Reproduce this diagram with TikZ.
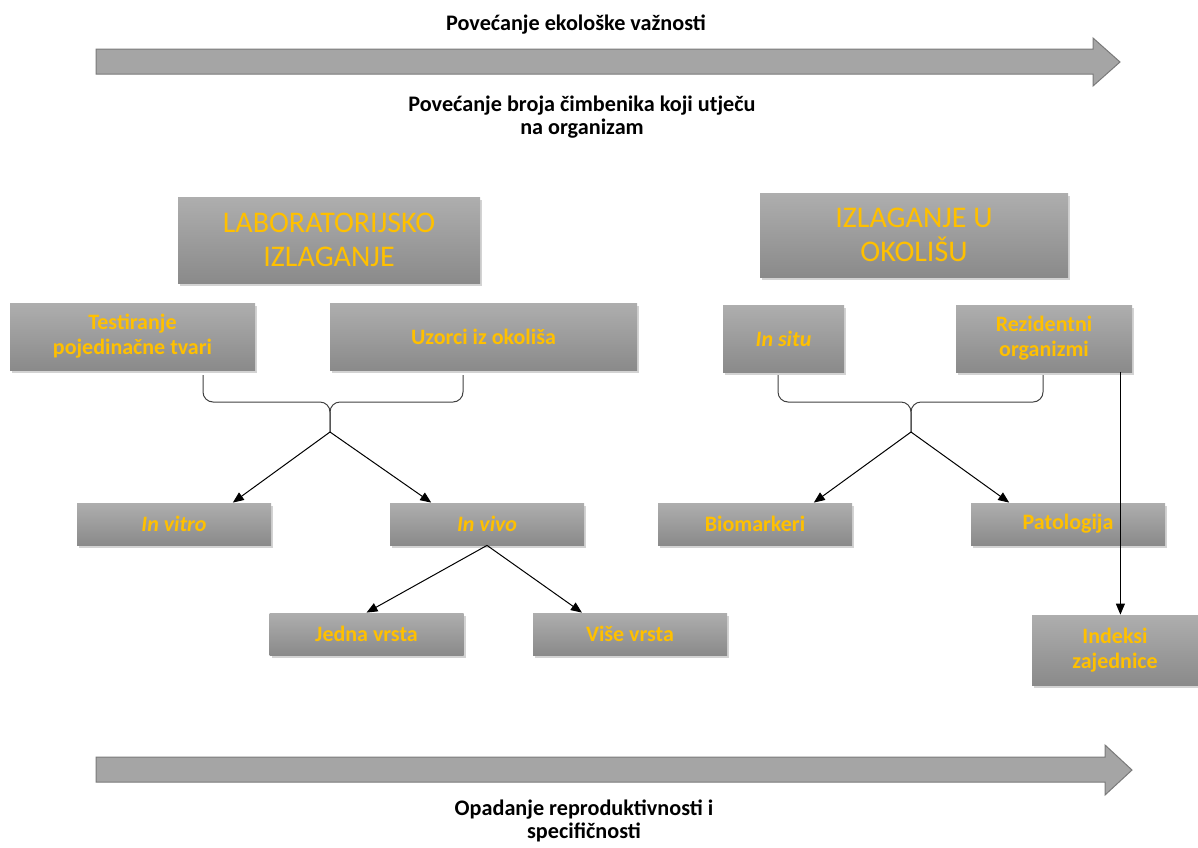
\documentclass[tikz,border=0pt]{standalone}
\usepackage{fontspec}
\setmainfont{Carlito}
\usetikzlibrary{arrows.meta,shadows,calc}
\definecolor{txtyel}{HTML}{FFC000}
\definecolor{boxtop}{HTML}{AEAEAE}
\definecolor{boxbot}{HTML}{8A8A8A}
\definecolor{arrfill}{HTML}{A5A5A5}
\definecolor{arrline}{HTML}{7A7A7A}
\tikzset{
  gbox/.style={rectangle, inner sep=2pt, align=center, text=txtyel,
    top color=boxtop, bottom color=boxbot, draw=none,
    drop shadow={opacity=0.35, shadow xshift=1pt, shadow yshift=-1.5pt}},
  bigbox/.style={gbox, font=\fontsize{15}{17}\selectfont},
  smallbox/.style={gbox, font=\bfseries\fontsize{11}{12.5}\selectfont},
  toptext/.style={align=center, font=\bfseries\fontsize{11.1}{11.5}\selectfont},
  bigarrow/.style={fill=arrfill, draw=arrline, line width=0.5pt},
  arr/.style={-{Triangle[length=5.5pt,width=4.5pt]}, line width=0.5pt, black},
  bracel/.style={line width=0.5pt, draw=black!75, rounded corners=5}
}
\begin{document}
\begin{tikzpicture}[x=0.5pt,y=-0.5pt]
\useasboundingbox (0,0) rectangle (1198,847);
% big arrows
\draw[bigarrow] (96,49) -- (1093,49) -- (1093,38) -- (1120,62) -- (1093,86) -- (1093,74) -- (96,74) -- cycle;
\draw[bigarrow] (96,757) -- (1105,757) -- (1105,745) -- (1132,770) -- (1105,795) -- (1105,782) -- (96,782) -- cycle;
% top/bottom texts
\node[toptext] (t1) at (576,25) {Povećanje ekološke važnosti};
\node[toptext] (t2) at (582,117) {Povećanje broja čimbenika koji utječu\\na organizam};
\node[toptext] (t3) at (584,821) {Opadanje reproduktivnosti i\\specifičnosti};
% main boxes
\node[bigbox, minimum width=151pt, minimum height=43pt] (lab) at (329,240) {LABORATORIJSKO\\IZLAGANJE};
\node[bigbox, minimum width=154pt, minimum height=42pt] (env) at (914,235) {IZLAGANJE U\\OKOLIŠU};
\node[smallbox, minimum width=122.5pt, minimum height=33.5pt] (test) at (132.5,336.5) {Testiranje\\pojedinačne tvari};
\node[smallbox, minimum width=153.5pt, minimum height=33.5pt] (uzorci) at (483.5,336.5) {Uzorci iz okoliša};
\node[smallbox, minimum width=60.5pt, minimum height=33.5pt] (insitu) at (783.5,338.5) {\itshape In situ};
\node[smallbox, minimum width=88pt, minimum height=33.5pt] (rez) at (1044,338.5) {Rezidentni\\organizmi};
\node[smallbox, minimum width=97pt, minimum height=21pt] (invitro) at (174,524) {\itshape In vitro};
\node[smallbox, minimum width=97pt, minimum height=21pt] (invivo) at (487,524) {\itshape In vivo};
\node[smallbox, minimum width=97pt, minimum height=21pt] (biom) at (755,524) {Biomarkeri};
\node[smallbox, minimum width=97pt, minimum height=21pt] (pat) at (1068,524) {Patologija};
\node[smallbox, minimum width=97pt, minimum height=21pt] (jedna) at (366.5,634) {Jedna vrsta};
\node[smallbox, minimum width=97pt, minimum height=21pt] (vise) at (630,634) {Više vrsta};
\node[smallbox, minimum width=83pt, minimum height=35pt] (indeksi) at (1115,650) {Indeksi\\zajednice};
% left brace
\coordinate (lbA) at (203,375);
\coordinate (lbB) at (463,375);
\coordinate (lbT) at (330,432);
\draw[bracel] (lbA) -- (203,402) -- (330,402) -- (lbT);
\draw[bracel] (lbB) -- (463,402) -- (330,402) -- (lbT);
% right brace
\coordinate (rbA) at (778,375);
\coordinate (rbB) at (1043,375);
\coordinate (rbT) at (911,432);
\draw[bracel] (rbA) -- (778,402) -- (911,402) -- (rbT);
\draw[bracel] (rbB) -- (1043,402) -- (911,402) -- (rbT);
% arrows
\draw[arr] (lbT) -- (invitro.20);
\draw[arr] (lbT) -- (invivo.159);
\draw[arr] (invivo.south) -- (jedna.north);
\draw[arr] (invivo.south) -- (vise.156);
\draw[arr] (rbT) -- (biom.20);
\draw[arr] (rbT) -- (pat.160);
\coordinate (rd) at ($(rez.south east)+(-12,0)$);
\draw[arr] (rd) -- (rd |- indeksi.north);
\end{tikzpicture}
\end{document}
